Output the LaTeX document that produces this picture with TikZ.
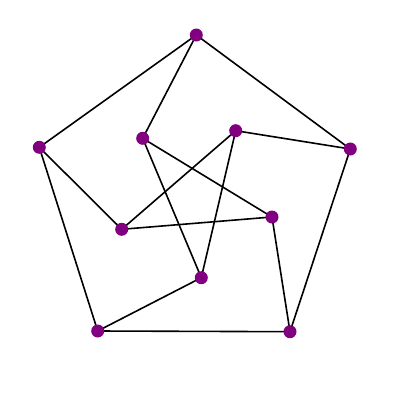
\documentclass[tikz,border=0pt]{standalone}
\definecolor{vpurple}{RGB}{128,0,128}
\begin{document}
\begin{tikzpicture}[x=1pt,y=-1pt,
  vertex/.style={circle,inner sep=0pt,minimum size=13pt},
  edge/.style={line width=1.6pt,black}]
\useasboundingbox[fill=white] (0,0) rectangle (400,400);
\node[vertex] (A) at (196.3,35) {};
\node[vertex] (B) at (39.3,147.3) {};
\node[vertex] (C) at (350.3,149) {};
\node[vertex] (D) at (97.7,331) {};
\node[vertex] (E) at (290,331.7) {};
\node[vertex] (F) at (142.7,138.3) {};
\node[vertex] (G) at (235.7,130.7) {};
\node[vertex] (H) at (121.7,229.3) {};
\node[vertex] (I) at (272,217) {};
\node[vertex] (J) at (201.3,277.7) {};
\foreach \u/\v in {A/B,A/C,B/D,C/E,D/E,A/F,B/H,C/G,D/J,E/I,F/I,F/J,G/H,G/J,H/I}
  \draw[edge] (\u.center) -- (\v.center);
\foreach \n in {A,B,C,D,E,F,G,H,I,J}
  \fill[vpurple] (\n.center) circle (6.5pt);
\end{tikzpicture}
\end{document}
